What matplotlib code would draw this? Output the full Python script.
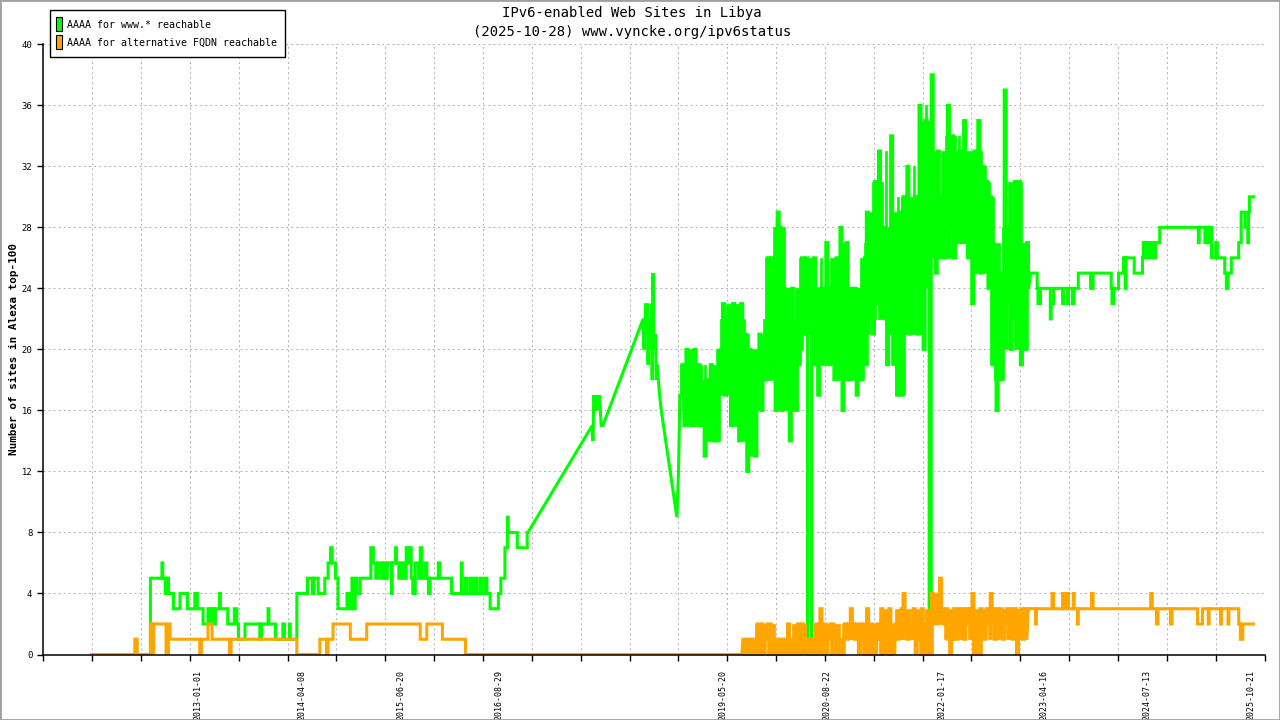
import numpy as np
import matplotlib
matplotlib.use("Agg")
import matplotlib.pyplot as plt
import matplotlib.dates as mdates
from matplotlib.patches import Rectangle

plt.rcParams["path.simplify"] = False

# ---- data (time as decimal years) ----
# www.* reachable, early period (value holds until next entry)
green_step_t = [2011.71, 2012.40, 2012.42, 2012.55, 2012.56, 2012.57, 2012.60, 2012.62, 2012.64,
                2012.70, 2012.78, 2012.87, 2012.96, 2012.99, 2013.06, 2013.12, 2013.15, 2013.17,
                2013.19, 2013.21, 2013.26, 2013.27, 2013.36, 2013.44, 2013.47, 2013.49, 2013.57,
                2013.75, 2013.77, 2013.85, 2013.86, 2013.94, 2014.03, 2014.05, 2014.11, 2014.12,
                2014.20, 2014.33, 2014.39, 2014.41, 2014.46, 2014.54, 2014.58, 2014.61, 2014.63,
                2014.67, 2014.70, 2014.81, 2014.84, 2014.85, 2014.87, 2014.88, 2014.91, 2014.93,
                2014.97, 2015.10, 2015.13, 2015.16, 2015.19, 2015.23, 2015.25, 2015.27, 2015.30,
                2015.35, 2015.36, 2015.40, 2015.41, 2015.44, 2015.47, 2015.50, 2015.53, 2015.55,
                2015.58, 2015.59, 2015.61, 2015.64, 2015.68, 2015.70, 2015.72, 2015.76, 2015.78,
                2015.80, 2015.82, 2015.92, 2015.94, 2016.08, 2016.20, 2016.21, 2016.25, 2016.27,
                2016.31, 2016.33, 2016.37, 2016.39, 2016.43, 2016.45, 2016.49, 2016.51, 2016.55,
                2016.65, 2016.68, 2016.73, 2016.76, 2016.77, 2016.88, 2017.00]
green_step_v = [0, 0, 5, 5, 6, 5, 4, 5, 4,
                3, 4, 3, 4, 3, 2, 3, 2, 3,
                2, 3, 4, 3, 2, 3, 2, 1, 2,
                1, 2, 3, 2, 1, 2, 1, 2, 1,
                4, 5, 4, 5, 4, 5, 6, 7, 6,
                5, 3, 4, 3, 4, 5, 3, 5, 4,
                5, 7, 6, 5, 6, 5, 6, 5, 6,
                4, 6, 7, 6, 5, 6, 5, 7, 6,
                7, 5, 4, 6, 5, 7, 5, 6, 5,
                4, 5, 6, 5, 4, 6, 4, 5, 4,
                5, 4, 5, 4, 5, 4, 5, 4, 3,
                4, 5, 7, 9, 8, 7, 8]

# sparse samples 2017-2018 (joined directly)
green_sparse_t = [2017.01, 2017.79, 2017.80, 2017.81, 2017.83, 2017.84, 2017.86, 2017.88, 2017.90,
                  2017.92, 2018.41, 2018.42, 2018.44, 2018.45, 2018.46, 2018.47, 2018.48, 2018.50,
                  2018.51, 2018.52, 2018.53, 2018.54, 2018.56, 2018.57, 2018.58, 2018.61, 2018.63,
                  2018.82, 2018.84]
green_sparse_v = [8, 15, 14, 17, 16, 17, 16, 17, 15,
                  15, 22, 20, 23, 21, 23, 19, 22, 20,
                  23, 18, 25, 20, 21, 18, 19, 17, 16,
                  9, 12]

SAMPLE_DAYS = 9
green_dense_start = "2018-11-10"
green_dense = [17, 19, 15, 20, 16, 18, 15, 20, 16, 19,
               15, 17, 13, 18, 15, 19, 14, 17, 14, 19,
               20, 23, 17, 22, 21, 15, 23, 19, 22, 14,
               23, 18, 21, 12, 20, 16, 19, 13, 18, 21,
               16, 20, 18, 26, 22, 26, 19, 16, 29, 28,
               16, 24, 20, 22, 14, 24, 19, 16, 22, 20,
               26, 21, 26, 1, 1, 21, 26, 19, 17, 24,
               22, 24, 27, 19, 24, 21, 18, 26, 22, 28,
               16, 21, 27, 18, 24, 20, 24, 17, 22, 18,
               19, 26, 29, 22, 27, 21, 31, 23, 33, 25,
               28, 22, 19, 27, 34, 21, 28, 17, 29, 17,
               30, 26, 32, 21, 28, 24, 30, 21, 36, 24,
               20, 35, 26, 1, 38, 28, 25, 33, 26, 30,
               26, 30, 36, 28, 34, 26, 31, 28, 33, 27,
               35, 28, 26, 30, 23, 33, 27, 35, 25, 32,
               28, 31, 24, 30, 27, 19, 16, 22, 18, 25,
               37, 23, 28, 20, 26, 31, 22, 31, 19, 24,
               20, 27, 24]

green_late_t = [2023.12, 2023.20, 2023.21, 2023.24, 2023.36, 2023.37, 2023.40, 2023.51, 2023.52,
                2023.57, 2023.58, 2023.63, 2023.65, 2023.70, 2023.85, 2023.88, 2024.10, 2024.11,
                2024.13, 2024.19, 2024.25, 2024.27, 2024.28, 2024.38, 2024.48, 2024.49, 2024.52,
                2024.53, 2024.55, 2024.56, 2024.59, 2024.60, 2024.62, 2024.64, 2024.69, 2025.16,
                2025.17, 2025.24, 2025.26, 2025.28, 2025.29, 2025.32, 2025.37, 2025.39, 2025.48,
                2025.50, 2025.52, 2025.56, 2025.65, 2025.68, 2025.73, 2025.76, 2025.77, 2025.78,
                2025.83]
green_late_v = [25, 24, 23, 24, 22, 23, 24, 23, 24,
                23, 24, 23, 24, 25, 24, 25, 24, 23,
                24, 25, 26, 24, 26, 25, 26, 27, 26,
                27, 26, 27, 26, 27, 26, 27, 28, 27,
                28, 27, 28, 27, 28, 26, 27, 26, 25,
                24, 25, 26, 27, 29, 28, 27, 29, 30,
                30]

# alternative FQDN reachable
orange_step_t = [2011.71, 2012.23, 2012.26, 2012.42, 2012.44, 2012.46, 2012.61, 2012.64, 2012.66,
                 2013.02, 2013.04, 2013.12, 2013.17, 2013.38, 2013.40, 2014.20, 2014.48, 2014.56,
                 2014.58, 2014.64, 2014.85, 2015.05, 2015.70, 2015.78, 2015.97, 2016.25, 2019.61]
orange_step_v = [0, 1, 0, 2, 0, 2, 0, 2, 1,
                 0, 1, 2, 1, 0, 1, 0, 1, 0,
                 1, 2, 1, 2, 1, 2, 1, 0, 0]

orange_dense_start = "2019-08-17"
orange_dense = [1, 0, 1, 0, 1, 1, 0,
                2, 1, 2,
                0, 1, 2,
                2, 1, 0,
                1, 0, 1, 0, 1, 1, 2, 0,
                1, 0, 1, 2, 1, 2, 0, 1, 1,
                0, 1, 1, 2, 0, 3, 2,
                2, 0, 1, 2, 2, 1, 0, 1,
                1, 0, 2, 1, 2, 3, 2, 1,
                2, 0, 2, 1, 2, 3, 0, 2,
                1, 0, 2, 1, 3, 1, 0, 2, 3, 1, 0, 2, 1, 2,
                3, 4, 2, 1, 2, 2, 3, 0, 2, 1, 3, 2, 0, 2,
                0, 4, 3, 2, 3, 5, 3, 2, 3, 1, 0, 1,
                3, 1, 3, 2, 3, 1, 3, 2,
                3, 4, 0, 2, 0, 3, 2, 1, 3,
                2, 4, 3, 1, 3, 2, 3, 1, 2, 3,
                2, 3, 1, 3, 0, 2, 3, 1, 3, 1]

orange_late_t = [2023.09, 2023.18, 2023.19, 2023.38, 2023.40, 2023.51, 2023.52, 2023.55, 2023.58,
                 2023.64, 2023.65, 2023.69, 2023.70, 2023.86, 2023.88, 2024.58, 2024.60, 2024.65,
                 2024.67, 2024.82, 2024.84, 2025.15, 2025.21, 2025.28, 2025.29, 2025.43, 2025.44,
                 2025.52, 2025.53, 2025.65, 2025.67, 2025.70, 2025.83]
orange_late_v = [3, 2, 3, 4, 3, 4, 3, 4, 3,
                 4, 3, 2, 3, 4, 3, 4, 3, 2,
                 3, 2, 3, 2, 3, 2, 3, 2, 3,
                 2, 3, 2, 1, 2, 2]

tick_labels = ["2013-01-01", "2014-04-08", "2015-06-20", "2016-08-29", "2019-05-20",
               "2020-08-22", "2022-01-17", "2023-04-16", "2024-07-13", "2025-10-21"]
x_start, x_end = "2011-02-14", "2025-12-19"

# ---- helpers ----
BASE = mdates.datestr2num("2013-01-01")


def yr(t):
    return BASE + (np.asarray(t, dtype=float) - 2013.0) * 365.25


def stepify(x, v):
    # hold each value until the next sample (like daily data)
    xs = np.repeat(np.asarray(x, dtype=float), 2)[1:]
    ys = np.repeat(np.asarray(v, dtype=float), 2)[:-1]
    return xs, ys


def dense_x(start, vals):
    return mdates.datestr2num(start) + np.arange(len(vals)) * SAMPLE_DAYS


def band(vals, floor=None, win=7):
    # the daily values swing between neighbouring samples: fill the core of
    # that swing (2nd lowest .. 2nd highest of the neighbours)
    v = np.asarray(vals, dtype=float)
    if floor is not None:
        v = np.where(v < floor, np.nan, v)
    p = np.pad(v, win // 2, mode="edge")
    w = np.sort(np.lib.stride_tricks.sliding_window_view(p, win), axis=1)
    n = np.sum(~np.isnan(w), axis=1)
    rows = np.arange(len(v))
    lo = w[rows, 1]
    hi = w[rows, np.maximum(n - 2, 0)]
    return lo, hi


gdx = dense_x(green_dense_start, green_dense)
odx = dense_x(orange_dense_start, orange_dense)

gx1, gy1 = stepify(yr(green_step_t), green_step_v)
gx2, gy2 = yr(green_sparse_t), np.asarray(green_sparse_v, dtype=float)
gx3, gy3 = stepify(gdx, green_dense)
gx4, gy4 = stepify(yr(green_late_t), green_late_v)
green_x = np.concatenate([gx1, gx2, gx3, gx4])
green_y = np.concatenate([gy1, gy2, gy3, gy4])

ox1, oy1 = stepify(yr(orange_step_t), orange_step_v)
ox2, oy2 = stepify(odx, orange_dense)
ox3, oy3 = stepify(yr(orange_late_t), orange_late_v)
orange_x = np.concatenate([ox1, ox2, ox3])
orange_y = np.concatenate([oy1, oy2, oy3])

# ---- plotting ----
W, H = 1280, 720
MONO = "DejaVu Sans Mono"
GREEN = "#00ff00"
ORANGE = "#ffa500"

fig = plt.figure(figsize=(W / 100, H / 100), dpi=100)
ax = fig.add_axes([43.4 / W, 1 - 654.5 / H, (1264.5 - 43.4) / W, (654.5 - 44.3) / H])

glo, ghi = band(green_dense, floor=10)
ax.fill_between(gdx, glo, ghi, step="post", facecolor=GREEN, edgecolor=GREEN, lw=0.5, zorder=3)
ax.plot(green_x, green_y, color=GREEN, lw=2.2, solid_joinstyle="miter", zorder=3)

olo, ohi = band(orange_dense)
ax.fill_between(odx, olo, ohi, step="post", facecolor=ORANGE, edgecolor=ORANGE, lw=0.5, zorder=4)
ax.plot(orange_x, orange_y, color=ORANGE, lw=2.2, solid_joinstyle="miter", zorder=4)

x0, x1 = mdates.datestr2num(x_start), mdates.datestr2num(x_end)
ax.set_xlim(x0, x1)
ax.set_ylim(0, 40)

# regular tick marks + grid, labels at selected dates
ax.set_xticks(np.linspace(x0, x1, 26), minor=True)
ax.set_xticks([mdates.datestr2num(d) for d in tick_labels])
ax.set_xticklabels(tick_labels, rotation=90, fontfamily=MONO, fontsize=6.0)
ax.tick_params(axis="x", which="major", length=0, pad=11)
ax.tick_params(axis="x", which="minor", length=4, width=1, direction="out")

ax.set_yticks(range(0, 41, 4))
ax.set_yticklabels([str(v) for v in range(0, 41, 4)], fontfamily=MONO, fontsize=6.4)
ax.tick_params(axis="y", length=4, width=1, direction="out", pad=4)

grid_kw = dict(color="#b0b0b0", lw=0.7, dashes=(2.0, 3.2))
for gx in np.linspace(x0, x1, 26)[1:]:
    ax.axvline(gx, zorder=1, **grid_kw)
for gy in range(4, 41, 4):
    ax.axhline(gy, zorder=1, **grid_kw)

for s in ("top", "right"):
    ax.spines[s].set_visible(False)
for s in ("left", "bottom"):
    ax.spines[s].set_linewidth(1.1)
    ax.spines[s].set_zorder(5)

ax.set_ylabel("Number of sites in Alexa top-100", fontfamily=MONO, fontsize=7.9,
              fontweight="bold")
ax.yaxis.set_label_coords((19 - 43.4) / (1264.5 - 43.4), 0.5)

# title
fig.text(632 / W, 1 - 13 / H, "IPv6-enabled Web Sites in Libya", ha="center", va="center",
         fontfamily=MONO, fontsize=10)
fig.text(632 / W, 1 - 32 / H, "(2025-10-28) www.vyncke.org/ipv6status", ha="center",
         va="center", fontfamily=MONO, fontsize=10)


# legend drawn in figure pixels
def fig_rect(x, y, w, h, **kw):
    fig.add_artist(Rectangle((x / W, 1 - (y + h) / H), w / W, h / H,
                             transform=fig.transFigure, **kw))


fig_rect(50, 10, 235, 47, facecolor="white", edgecolor="black", lw=1.0, zorder=6)
fig_rect(56, 17, 6, 14, facecolor=GREEN, edgecolor="black", lw=0.8, zorder=7)
fig_rect(56, 35, 6, 14, facecolor=ORANGE, edgecolor="black", lw=0.8, zorder=7)
fig.text(67 / W, 1 - 25 / H, "AAAA for www.* reachable", ha="left", va="center",
         fontfamily=MONO, fontsize=7.2, zorder=8)
fig.text(67 / W, 1 - 43 / H, "AAAA for alternative FQDN reachable", ha="left", va="center",
         fontfamily=MONO, fontsize=7.2, zorder=8)

# grey frame round the image
fig.add_artist(Rectangle((0, 0), 1, 1, transform=fig.transFigure, fill=False,
                         edgecolor="#a0a0a0", lw=2.0, zorder=9))

fig.savefig("out.png", dpi=100)
